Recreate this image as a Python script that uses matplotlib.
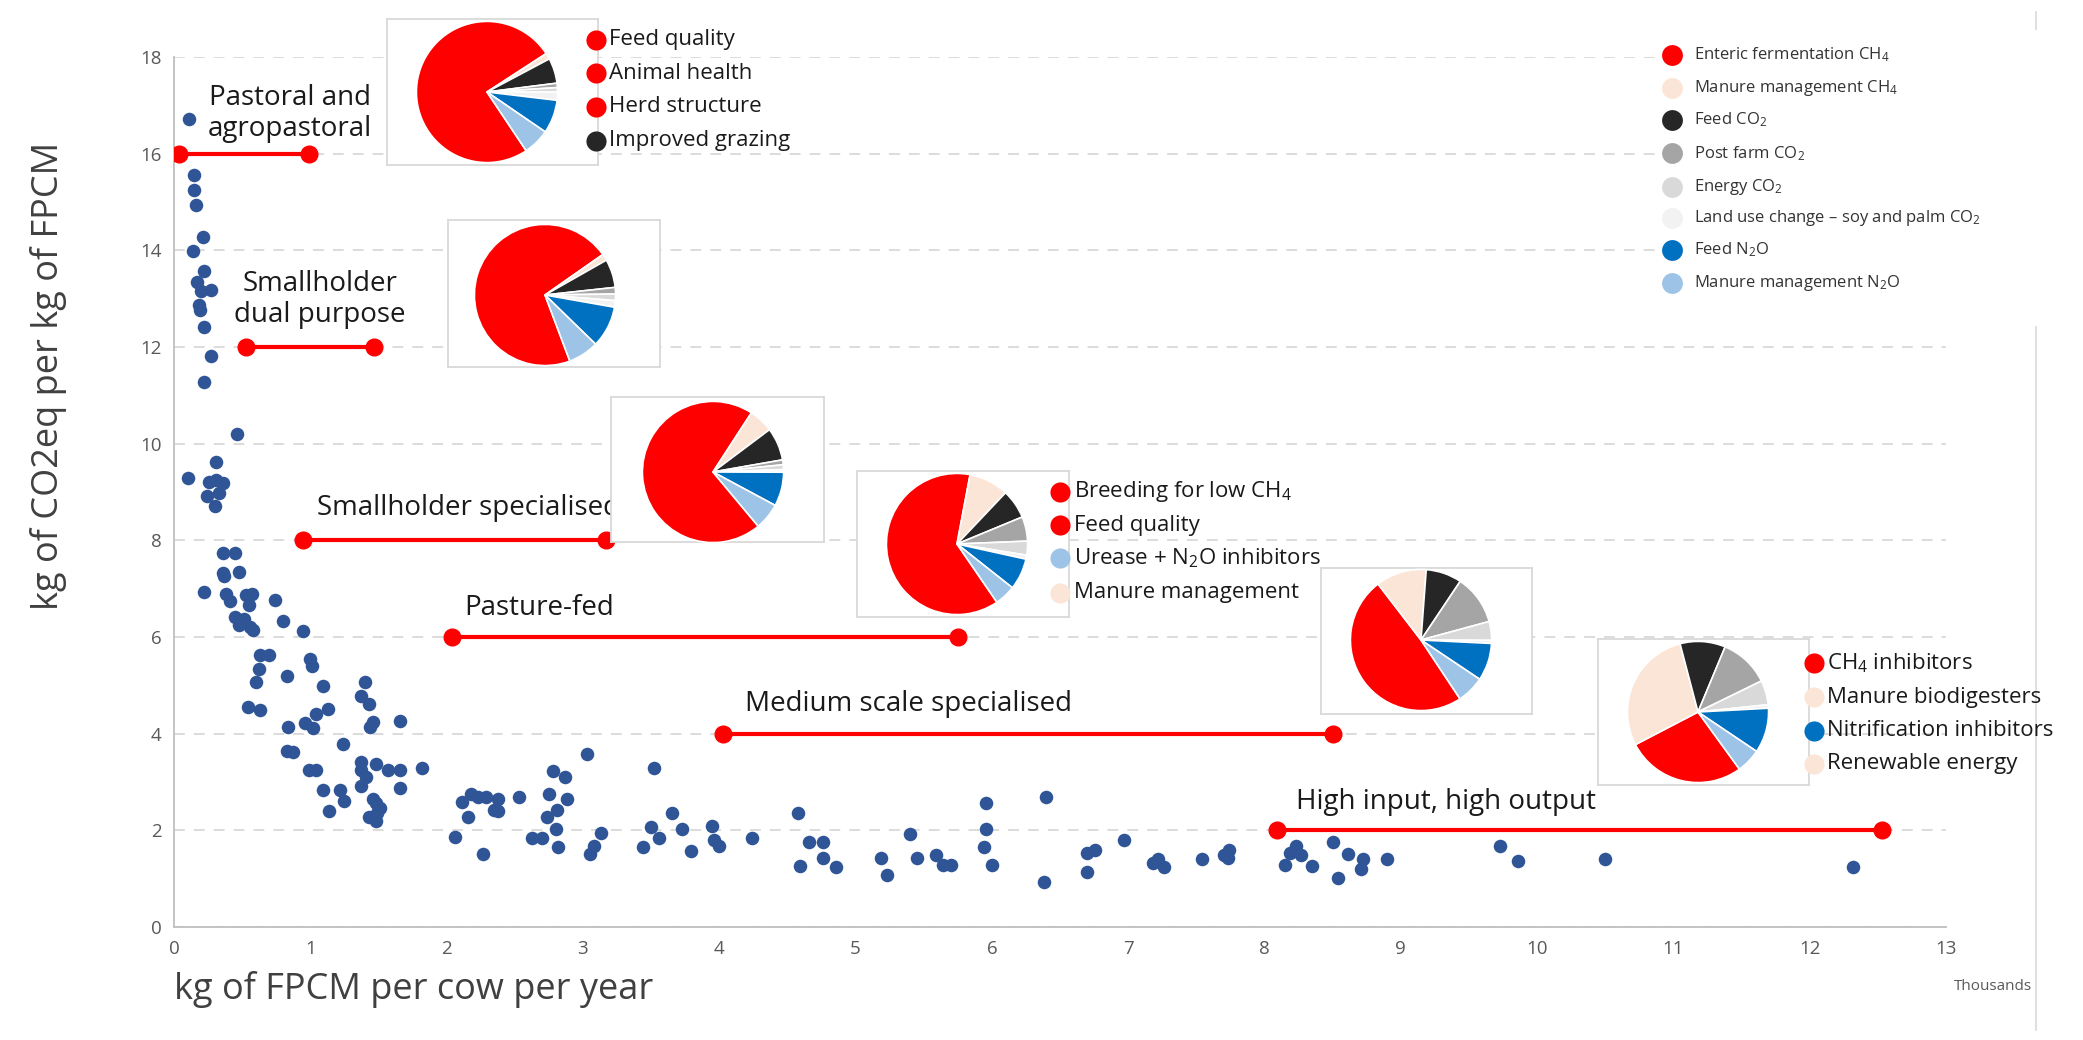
import matplotlib
matplotlib.use('Agg')
import matplotlib.pyplot as plt
from matplotlib.patches import Rectangle

plt.rcParams['font.family'] = ['Open Sans', 'DejaVu Sans']
plt.rcParams['mathtext.fontset'] = 'custom'
plt.rcParams['mathtext.rm'] = 'Open Sans'
plt.rcParams['mathtext.it'] = 'Open Sans:italic'
plt.rcParams['mathtext.bf'] = 'Open Sans:bold'

# ---------------- data ----------------
farm_x = [0.11, 0.15, 0.15, 0.16, 0.21, 0.14, 0.22, 0.17, 0.20, 0.27, 0.18, 0.19, 0.22, 0.27, 0.22, 0.46,
          0.10, 0.31, 0.26, 0.31, 0.36, 0.24, 0.33, 0.30, 0.36, 0.45, 0.36, 0.37, 0.48, 0.22, 0.38, 0.41,
          0.53, 0.57, 0.55, 0.74, 0.45, 0.51, 0.48, 0.56, 0.58, 0.80, 0.95, 0.63, 0.70, 0.62, 1.00, 1.01,
          0.60, 0.83, 1.09, 1.40, 1.37, 1.43, 0.54, 0.63, 1.04, 1.13, 1.66, 0.84, 0.96, 1.02, 1.46, 1.44,
          0.83, 0.87, 0.99, 1.04, 1.09, 1.14, 1.22, 1.25, 1.24, 1.37, 1.37, 1.41, 1.37, 1.43, 1.46, 1.48,
          1.48, 1.49, 1.48, 1.51, 1.57, 1.66, 1.66, 1.82,
          2.06, 2.11, 2.18, 2.16, 2.23, 2.27, 2.29, 2.35, 2.38, 2.38, 2.53, 2.63, 2.70, 2.74, 2.75, 2.78,
          2.80, 2.81, 2.82, 2.87, 2.88, 3.03, 3.05, 3.08, 3.13, 3.44, 3.50, 3.52, 3.56, 3.65, 3.73, 3.79,
          3.95, 3.96, 4.00, 4.24, 4.58, 4.59, 4.66, 4.76, 4.76, 4.86, 5.19, 5.23, 5.40, 5.45, 5.59, 5.64,
          5.70, 5.94, 5.96, 5.96, 6.00, 6.38, 6.40, 6.70, 6.70, 6.76, 6.97, 7.18, 7.22, 7.26, 7.54, 7.70,
          7.74, 7.73, 8.15, 8.19, 8.23, 8.27, 8.35, 8.50, 8.54, 8.61, 8.72, 8.71, 8.90, 9.73, 9.86, 10.50,
          12.32]
farm_y = [16.71, 15.56, 15.24, 14.93, 14.28, 13.98, 13.58, 13.35, 13.15, 13.17, 12.87, 12.77, 12.41, 11.82, 11.27, 10.19,
          9.28, 9.62, 9.20, 9.25, 9.19, 8.92, 8.97, 8.72, 7.74, 7.74, 7.32, 7.27, 7.35, 6.93, 6.88, 6.74,
          6.87, 6.88, 6.66, 6.77, 6.41, 6.37, 6.25, 6.20, 6.15, 6.34, 6.12, 5.63, 5.63, 5.34, 5.54, 5.41,
          5.06, 5.19, 4.99, 5.06, 4.78, 4.61, 4.56, 4.48, 4.41, 4.52, 4.27, 4.14, 4.23, 4.11, 4.24, 4.13,
          3.65, 3.63, 3.24, 3.24, 2.83, 2.39, 2.83, 2.60, 3.79, 3.41, 3.24, 3.10, 2.91, 2.28, 2.64, 3.38,
          2.56, 2.36, 2.20, 2.47, 3.24, 3.24, 2.88, 3.30,
          1.87, 2.58, 2.75, 2.28, 2.69, 1.51, 2.69, 2.42, 2.64, 2.39, 2.69, 1.84, 1.84, 2.28, 2.75, 3.22,
          2.03, 2.42, 1.65, 3.10, 2.64, 3.57, 1.51, 1.68, 1.95, 1.65, 2.06, 3.30, 1.84, 2.36, 2.03, 1.57,
          2.09, 1.81, 1.68, 1.84, 2.36, 1.26, 1.76, 1.76, 1.43, 1.24, 1.43, 1.07, 1.92, 1.43, 1.48, 1.29,
          1.29, 1.65, 2.56, 2.03, 1.29, 0.93, 2.68, 1.13, 1.54, 1.59, 1.79, 1.33, 1.40, 1.24, 1.40, 1.50,
          1.60, 1.43, 1.29, 1.54, 1.68, 1.48, 1.26, 1.76, 1.02, 1.51, 1.40, 1.21, 1.40, 1.68, 1.37, 1.40,
          1.24]

system_names = ['Pastoral and\nagropastoral', 'Smallholder\ndual purpose', 'Smallholder specialised',
                'Pasture-fed', 'Medium scale specialised', 'High input, high output']
system_start = [0.04, 0.53, 0.95, 2.04, 4.03, 8.09]
system_end = [0.99, 1.47, 3.17, 5.75, 8.50, 12.53]
system_level = [16, 12, 8, 6, 4, 2]

source_names = ['Enteric fermentation CH$_4$', 'Manure management CH$_4$', 'Feed CO$_2$',
                'Post farm CO$_2$', 'Energy CO$_2$', 'Land use change \u2013 soy and palm CO$_2$',
                'Feed N$_2$O', 'Manure management N$_2$O']
source_colors = ['#ff0000', '#fbe5d6', '#262626', '#a5a5a5', '#d9d9d9', '#f2f2f2', '#0070c0', '#9dc3e6']

pie_pastoral = [75.5, 1.4, 5.8, 1.0, 1.0, 1.9, 7.7, 6.1]
pie_dual = [71.0, 1.5, 6.5, 1.5, 1.5, 1.5, 9.5, 7.0]
pie_small_spec = [70.3, 5.6, 7.5, 1.1, 1.1, 0.6, 7.8, 6.1]
pie_pasture = [62.6, 9.1, 6.7, 5.6, 3.2, 0.9, 7.2, 4.8]
pie_medium = [48.9, 11.6, 8.2, 11.4, 4.3, 0.7, 8.6, 6.3]
pie_high = [27.4, 28.6, 10.4, 11.5, 5.6, 0.8, 10.3, 5.6]

options_pastoral = ['Feed quality', 'Animal health', 'Herd structure', 'Improved grazing']
options_pastoral_colors = ['#ff0000', '#ff0000', '#ff0000', '#262626']
options_pasture = ['Breeding for low CH$_4$', 'Feed quality', 'Urease + N$_2$O inhibitors', 'Manure management']
options_pasture_colors = ['#ff0000', '#ff0000', '#9dc3e6', '#fbe5d6']
options_high = ['CH$_4$ inhibitors', 'Manure biodigesters', 'Nitrification inhibitors', 'Renewable energy']
options_high_colors = ['#ff0000', '#fbe5d6', '#0070c0', '#fbe5d6']

x_ticks = list(range(0, 14))
y_ticks = list(range(0, 20, 2))

# ---------------- figure ----------------
W, H = 2083, 1040
fig = plt.figure(figsize=(W / 100, H / 100), dpi=100)
fig.patch.set_facecolor('white')

def rect(x0, y0, x1, y1):
    return [x0 / W, 1 - y1 / H, (x1 - x0) / W, (y1 - y0) / H]

ax = fig.add_axes(rect(174, 57, 1946, 927))
ax.set_xlim(0, 13)
ax.set_ylim(0, 18)
ax.set_xticks(x_ticks)
ax.set_yticks(y_ticks)
ax.tick_params(length=0, labelsize=13.5, labelcolor='#595959', pad=9)
for s in ['top', 'right']:
    ax.spines[s].set_visible(False)
for s in ['left', 'bottom']:
    ax.spines[s].set_color('#bfbfbf')
    ax.spines[s].set_linewidth(1.3)
ax.yaxis.grid(True, color='#d9d9d9', linestyle=(0, (6, 5)), linewidth=1.3)
ax.set_axisbelow(True)

ax.scatter(farm_x, farm_y, s=95, color='#2f5597', linewidths=0, zorder=3)

for x0, x1, yv in zip(system_start, system_end, system_level):
    ax.plot([x0, x1], [yv, yv], color='#ff0000', lw=3, marker='o', ms=12,
            solid_capstyle='butt', zorder=4)

txt_kw = dict(fontsize=20, color='#1a1a1a', zorder=5)
ax.text(0.85, 16.83, system_names[0], ha='center', va='center', linespacing=1.15, **txt_kw)
ax.text(1.07, 12.98, system_names[1], ha='center', va='center', linespacing=1.15, **txt_kw)
ax.text(1.05, 8.66, system_names[2], ha='left', va='center', **txt_kw)
ax.text(2.13, 6.60, system_names[3], ha='left', va='center', **txt_kw)
ax.text(4.19, 4.62, system_names[4], ha='left', va='center', **txt_kw)
ax.text(8.23, 2.58, system_names[5], ha='left', va='center', **txt_kw)

# axis titles
fig.text(174 / W, 1 - 990 / H, 'kg of FPCM per cow per year', fontsize=26, color='#404040',
         ha='left', va='center')
fig.text(49 / W, 1 - 376 / H, 'kg of CO2eq per kg of FPCM', fontsize=26, color='#404040',
         ha='center', va='center', rotation=90)
fig.text(1993 / W, 1 - 987 / H, 'Thousands', fontsize=11, color='#595959', ha='center', va='center')

# ---------------- pies ----------------
def add_pie(values, box, center, r, end_angle):
    bx = fig.add_axes(rect(*box))
    bx.set_xticks([])
    bx.set_yticks([])
    bx.set_facecolor('white')
    for sp in bx.spines.values():
        sp.set_color('#d9d9d9')
        sp.set_linewidth(1.3)
    cx, cy = center
    pa = fig.add_axes(rect(cx - r, cy - r, cx + r, cy + r))
    start = end_angle + 360.0 * values[0] / sum(values)
    pa.pie(values, colors=source_colors, startangle=start, counterclock=False,
           wedgeprops=dict(edgecolor='white', linewidth=1.2))
    pa.set_xlim(-1.02, 1.02)
    pa.set_ylim(-1.02, 1.02)
    pa.axis('off')

add_pie(pie_pastoral, (387, 19, 598, 165), (487, 92), 72, 33)
add_pie(pie_dual, (448, 220, 660, 367), (545, 295), 72, 35)
add_pie(pie_small_spec, (611, 397, 824, 542), (713, 472), 72, 57)
add_pie(pie_pasture, (857, 471, 1069, 617), (957, 544), 72, 79.3)
add_pie(pie_medium, (1321, 568, 1532, 714), (1421, 640), 72, 127.5)
add_pie(pie_high, (1598, 639, 1809, 785), (1698, 712), 72, 207.5)

# ---------------- overlay (legends) ----------------
ov = fig.add_axes([0, 0, 1, 1])
ov.set_xlim(0, W)
ov.set_ylim(H, 0)
ov.axis('off')
ov.patch.set_visible(False)

ov.plot([2036, 2036], [12, 1030], color='#d9d9d9', lw=1.2, zorder=1)
ov.add_patch(Rectangle((1655, 30), 390, 296, facecolor='white', edgecolor='none', zorder=2))

leg_rows = [55, 88.3, 120, 153.3, 186.7, 218.3, 250, 283.3]
for name, col, yy in zip(source_names, source_colors, leg_rows):
    ov.plot([1672], [yy], marker='o', ms=15, color=col, mec='none', zorder=3)
    ov.text(1694, yy, name, fontsize=12, color='#333333', ha='left', va='center', zorder=3)

def pie_legend(names, cols, mx, tx, rows):
    for name, col, yy in zip(names, cols, rows):
        ov.plot([mx], [yy], marker='o', ms=14.5, color=col, mec='none', zorder=3)
        ov.text(tx, yy, name, fontsize=16, color='#1a1a1a', ha='left', va='center', zorder=3)

pie_legend(options_pastoral, options_pastoral_colors, 596, 609, [40, 73.3, 106.7, 140.7])
pie_legend(options_pasture, options_pasture_colors, 1060, 1074, [491.7, 525, 558.3, 592.7])
pie_legend(options_high, options_high_colors, 1814, 1827, [663, 697, 730.6, 764])

fig.savefig('out.png', dpi=100, facecolor='white')
